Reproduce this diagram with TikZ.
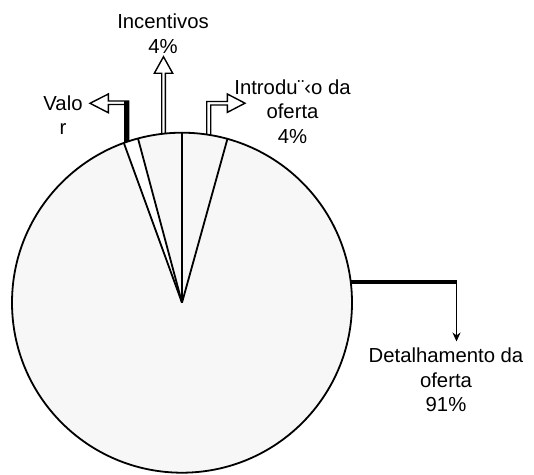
\documentclass[tikz,border=0pt]{standalone}
\usepackage{fontspec}
\setmainfont{Liberation Sans}
\usetikzlibrary{arrows.meta}
\tikzset{
  lbl/.style={inner sep=0pt, align=center, font=\fontsize{20.3}{24.5}\selectfont, anchor=base},
  blockarrow/.style={draw=black, line width=1.4pt, fill=white, line join=miter},
  pieline/.style={draw=black, line width=1.8pt},
}
\begin{document}
\begin{tikzpicture}[x=1pt,y=1pt]
\useasboundingbox (0,0) rectangle (534,474);
\coordinate (C) at (182,171.3);
% block arrows (drawn first, pie covers their feet)
\draw[blockarrow] (161.7,336) -- (161.7,400.7) -- (154.3,400.7) -- (163.5,417.3) -- (172.7,400.7) -- (165.3,400.7) -- (165.3,336) -- cycle;
\draw[blockarrow] (206.7,336) -- (206.7,372.5) -- (227.3,372.5) -- (227.3,380) -- (245,370.8) -- (227.3,361.6) -- (227.3,369) -- (210.7,369) -- (210.7,336) -- cycle;
\draw[blockarrow] (128.7,328) -- (128.7,373) -- (108.3,373) -- (108.3,380) -- (90,370.7) -- (108.3,361.3) -- (108.3,369.5) -- (124.7,369.5) -- (124.7,328) -- cycle;
\fill[black] (124.2,328) rectangle (129.2,373.2);
% leader of the large slice
\coordinate (dA) at (346,192);
\coordinate (dB) at (456.5,192);
\coordinate (dC) at (456.5,132.5);
\draw[line width=4pt] (dA) -- (dB);
\draw[line width=1pt, -{Stealth[length=9pt,width=8pt]}] (dB) -- (dC);
% pie
\fill[black!3] (C) circle[radius=170];
\fill[white] (C) -- ++(105:170) arc[start angle=105, end angle=110, radius=170] -- cycle;
\draw[pieline] (C) circle[radius=170];
\draw[pieline] (C) -- ++(74.5:170);
\draw[pieline] (C) -- ++(90:170);
\draw[pieline] (C) -- ++(105:170);
\draw[pieline] (C) -- ++(110:170);
% labels (base anchor = baseline of the last line)
\node[lbl] (inc) at (163,420.7) {Incentivos\\4\%};
\node[lbl] (val) at (63,339) {Valo\\r};
\node[lbl] (intro) at (292.5,330.7) {Introdu¨‹o da\\oferta\\4\%};
\node[lbl] (det) at (446,62.3) {Detalhamento da\\oferta\\91\%};
\end{tikzpicture}
\end{document}
